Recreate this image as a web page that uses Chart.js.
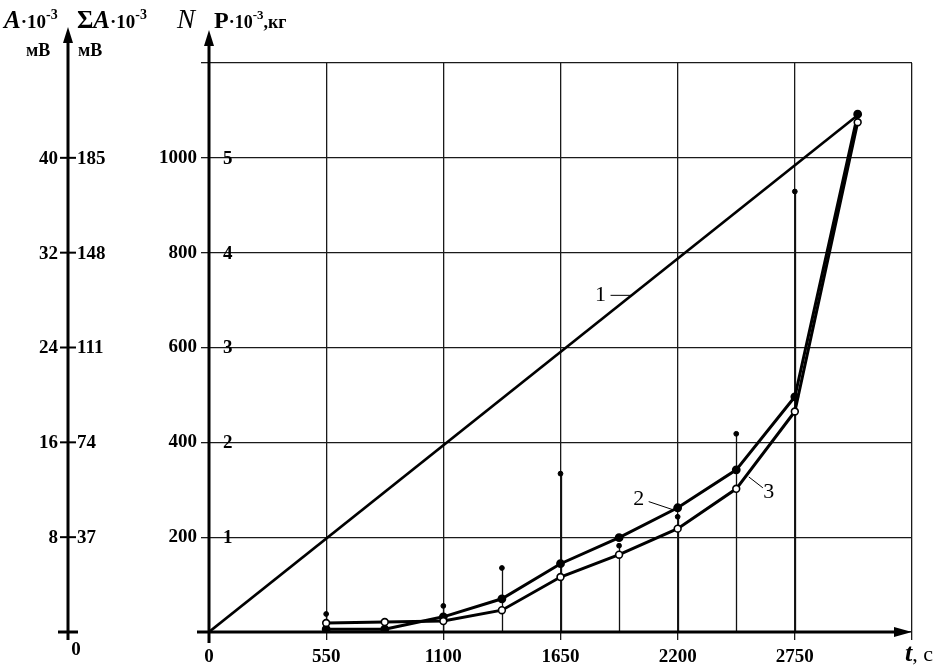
<!DOCTYPE html>
<html>
<head>
<meta charset="utf-8">
<script src="https://cdn.jsdelivr.net/npm/chart.js@4"></script>
<style>
  html, body { margin: 0; padding: 0; background: #fff; }
  #wrap { width: 944px; height: 666px; position: relative; }
</style>
</head>
<body>
<div id="wrap"><canvas id="chart"></canvas></div>
<script>
// time points of the measured curves, seconds
const tValues = [550, 825, 1100, 1375, 1650, 1925, 2200, 2475, 2750, 3045];
// curve 2 (filled markers) and curve 3 (open markers), N
const curve2 = [6, 6, 32, 70, 144, 199, 262, 342, 496, 1092];
const curve3 = [19, 21, 23, 46, 116, 163, 218, 302, 465, 1075];
// curve 1 - load, straight line
const line1T = [0, 3045];
const line1N = [0, 1090];
// single amplitude readings with drop lines
const dotT = [550, 1100, 1375, 1650, 1925, 2200, 2475, 2750];
const dotN = [38, 55, 135, 334, 182, 243, 418, 929];

// tick labels
const xTicks = [0, 550, 1100, 1650, 2200, 2750];
const nTicks = [200, 400, 600, 800, 1000];
const pTicks = [1, 2, 3, 4, 5];
const aTicks = [8, 16, 24, 32, 40];
const sumATicks = [37, 74, 111, 148, 185];

// curve numbers: label position and leader line, in data units
const curveNames = ['1', '2', '3'];
const nameAt = [[1838, 710], [2017, 279], [2628, 294]];
const leaderFrom = [[1885, 710], [2064, 275], [2600, 304]];
const leaderTo = [[1989, 710], [2177, 258], [2534, 327]];

const SERIF = "'Liberation Serif', 'DejaVu Serif', serif";

function pts(xs, ys) {
  return xs.map((v, i) => ({ x: v, y: ys[i] }));
}

function drawRuns(ctx, x, y, runs) {
  runs.forEach(r => {
    ctx.font = r.font;
    ctx.fillText(r.text, x, y + (r.dy || 0));
    x += ctx.measureText(r.text).width + (r.gap || 0);
  });
}

function arrowUp(ctx, x, tip) {
  ctx.beginPath();
  ctx.moveTo(x, tip);
  ctx.lineTo(x - 5, tip + 16);
  ctx.lineTo(x + 5, tip + 16);
  ctx.closePath();
  ctx.fill();
}

function arrowRight(ctx, tip, y) {
  ctx.beginPath();
  ctx.moveTo(tip, y);
  ctx.lineTo(tip - 18, y - 5);
  ctx.lineTo(tip - 18, y + 5);
  ctx.closePath();
  ctx.fill();
}

const extras = {
  id: 'extras',
  beforeDatasetsDraw(chart) {
    const { ctx, scales: { x, y } } = chart;
    ctx.save();
    ctx.strokeStyle = '#111';
    ctx.lineWidth = 1.3;
    dotT.forEach((t, i) => {
      const px = Math.round(x.getPixelForValue(t)) + 0.5;
      ctx.beginPath();
      ctx.moveTo(px, y.getPixelForValue(dotN[i]));
      ctx.lineTo(px, y.getPixelForValue(0));
      ctx.stroke();
    });
    ctx.restore();
  },
  afterDraw(chart) {
    const { ctx, chartArea, scales } = chart;
    const { x, y, a, sa, p } = scales;
    const x0 = chartArea.left, y0 = chartArea.bottom;
    ctx.save();
    ctx.fillStyle = '#000';
    ctx.strokeStyle = '#000';

    // main axes
    ctx.lineWidth = 3;
    ctx.beginPath();
    ctx.moveTo(x0, y0 + 11);
    ctx.lineTo(x0, 40);
    ctx.moveTo(x0 - 12, y0);
    ctx.lineTo(chartArea.right - 10, y0);
    ctx.stroke();
    arrowUp(ctx, x0, 30);
    arrowRight(ctx, chartArea.right, y0);

    // P labels on the right side of the N axis
    ctx.font = 'bold 19px ' + SERIF;
    ctx.textAlign = 'left';
    ctx.textBaseline = 'middle';
    pTicks.forEach(v => ctx.fillText(String(v), x0 + 14, p.getPixelForValue(v) + 1));

    // left amplitude axis
    const ax = 68;
    ctx.lineWidth = 3;
    ctx.beginPath();
    ctx.moveTo(ax, y0 + 8);
    ctx.lineTo(ax, 38);
    ctx.moveTo(ax - 10, y0);
    ctx.lineTo(ax + 10, y0);
    ctx.stroke();
    arrowUp(ctx, ax, 27);
    ctx.lineWidth = 2;
    aTicks.forEach((v, i) => {
      const py = a.getPixelForValue(v);
      ctx.beginPath();
      ctx.moveTo(ax - 8, py);
      ctx.lineTo(ax + 8, py);
      ctx.stroke();
      ctx.textAlign = 'right';
      ctx.fillText(String(v), ax - 10, py + 1);
      ctx.textAlign = 'left';
      ctx.fillText(String(sumATicks[i]), ax + 9, sa.getPixelForValue(sumATicks[i]) + 1);
    });
    ctx.textAlign = 'center';
    ctx.fillText('0', ax + 8, y0 + 18);

    // axis titles
    ctx.textAlign = 'left';
    ctx.textBaseline = 'alphabetic';
    drawRuns(ctx, 4, 28, [
      { text: 'A', font: 'italic bold 25px ' + SERIF },
      { text: '·10', font: 'bold 19px ' + SERIF },
      { text: '-3', font: 'bold 14px ' + SERIF, dy: -9 }
    ]);
    drawRuns(ctx, 77, 28, [
      { text: 'Σ', font: 'bold 25px ' + SERIF },
      { text: 'A', font: 'italic bold 25px ' + SERIF },
      { text: '·10', font: 'bold 19px ' + SERIF },
      { text: '-3', font: 'bold 14px ' + SERIF, dy: -9 }
    ]);
    ctx.font = 'bold 18px ' + SERIF;
    ctx.fillText('мВ', 26, 56);
    ctx.fillText('мВ', 78, 56);
    drawRuns(ctx, 177, 28, [
      { text: 'N', font: 'italic 27px ' + SERIF, gap: 19 },
      { text: 'P', font: 'bold 24px ' + SERIF },
      { text: '·10', font: 'bold 18px ' + SERIF },
      { text: '-3', font: 'bold 13px ' + SERIF, dy: -9 },
      { text: ',кг', font: 'bold 18px ' + SERIF }
    ]);
    drawRuns(ctx, 905, 661, [
      { text: 't', font: 'italic bold 26px ' + SERIF },
      { text: ', с', font: '22px ' + SERIF }
    ]);

    // curve numbers with leader lines
    ctx.lineWidth = 1;
    ctx.font = '22px ' + SERIF;
    ctx.textAlign = 'center';
    ctx.textBaseline = 'middle';
    curveNames.forEach((name, i) => {
      ctx.fillText(name, x.getPixelForValue(nameAt[i][0]), y.getPixelForValue(nameAt[i][1]));
      ctx.beginPath();
      ctx.moveTo(x.getPixelForValue(leaderFrom[i][0]), y.getPixelForValue(leaderFrom[i][1]));
      ctx.lineTo(x.getPixelForValue(leaderTo[i][0]), y.getPixelForValue(leaderTo[i][1]));
      ctx.stroke();
    });
    ctx.restore();
  }
};

const gridStyle = { color: '#1a1a1a', lineWidth: 1.3, tickColor: '#1a1a1a' };

new Chart(document.getElementById('chart'), {
  type: 'line',
  data: {
    datasets: [
      {
        label: 'A',
        data: pts(dotT, dotN),
        showLine: false,
        pointRadius: 2.4,
        pointBackgroundColor: '#000',
        pointBorderColor: '#000'
      },
      {
        label: '3',
        data: pts(tValues, curve3),
        borderColor: '#000',
        borderWidth: 3,
        pointRadius: 3.4,
        pointBackgroundColor: '#fff',
        pointBorderColor: '#000',
        pointBorderWidth: 1.6
      },
      {
        label: '2',
        data: pts(tValues, curve2),
        borderColor: '#000',
        borderWidth: 3,
        pointRadius: 2.9,
        pointBackgroundColor: '#000',
        pointBorderColor: '#000'
      },
      {
        label: '1',
        data: pts(line1T, line1N),
        borderColor: '#000',
        borderWidth: 2.6,
        pointRadius: 0
      }
    ]
  },
  options: {
    responsive: true,
    maintainAspectRatio: false,
    animation: false,
    events: [],
    layout: { padding: { top: 63, right: 32, left: 0, bottom: 0 } },
    plugins: { legend: { display: false }, tooltip: { enabled: false } },
    scales: {
      x: {
        type: 'linear',
        min: 0,
        max: 3300,
        afterBuildTicks: s => { s.ticks = xTicks.concat([3300]).map(v => ({ value: v })); },
        afterFit: s => { s.height = 34; },
        border: { display: false },
        grid: Object.assign({ tickLength: 8 }, gridStyle),
        ticks: {
          color: '#000',
          padding: 6,
          maxRotation: 0,
          autoSkip: false,
          font: { family: SERIF, size: 19, weight: 'bold' },
          callback: v => (xTicks.includes(v) ? String(v) : '')
        }
      },
      y: {
        min: 0,
        max: 1200,
        afterBuildTicks: s => { s.ticks = [0].concat(nTicks, [1200]).map(v => ({ value: v })); },
        afterFit: s => { s.width = 209; },
        border: { display: false },
        grid: Object.assign({ tickLength: 8 }, gridStyle),
        ticks: {
          color: '#000',
          padding: 4,
          autoSkip: false,
          font: { family: SERIF, size: 19, weight: 'bold' },
          callback: v => (nTicks.includes(v) ? String(v) : '')
        }
      },
      p: { axis: 'y', position: 'left', display: false, min: 0, max: 6 },
      a: { axis: 'y', position: 'left', display: false, min: 0, max: 48 },
      sa: { axis: 'y', position: 'left', display: false, min: 0, max: 222 }
    }
  },
  plugins: [extras]
});
</script>
</body>
</html>
